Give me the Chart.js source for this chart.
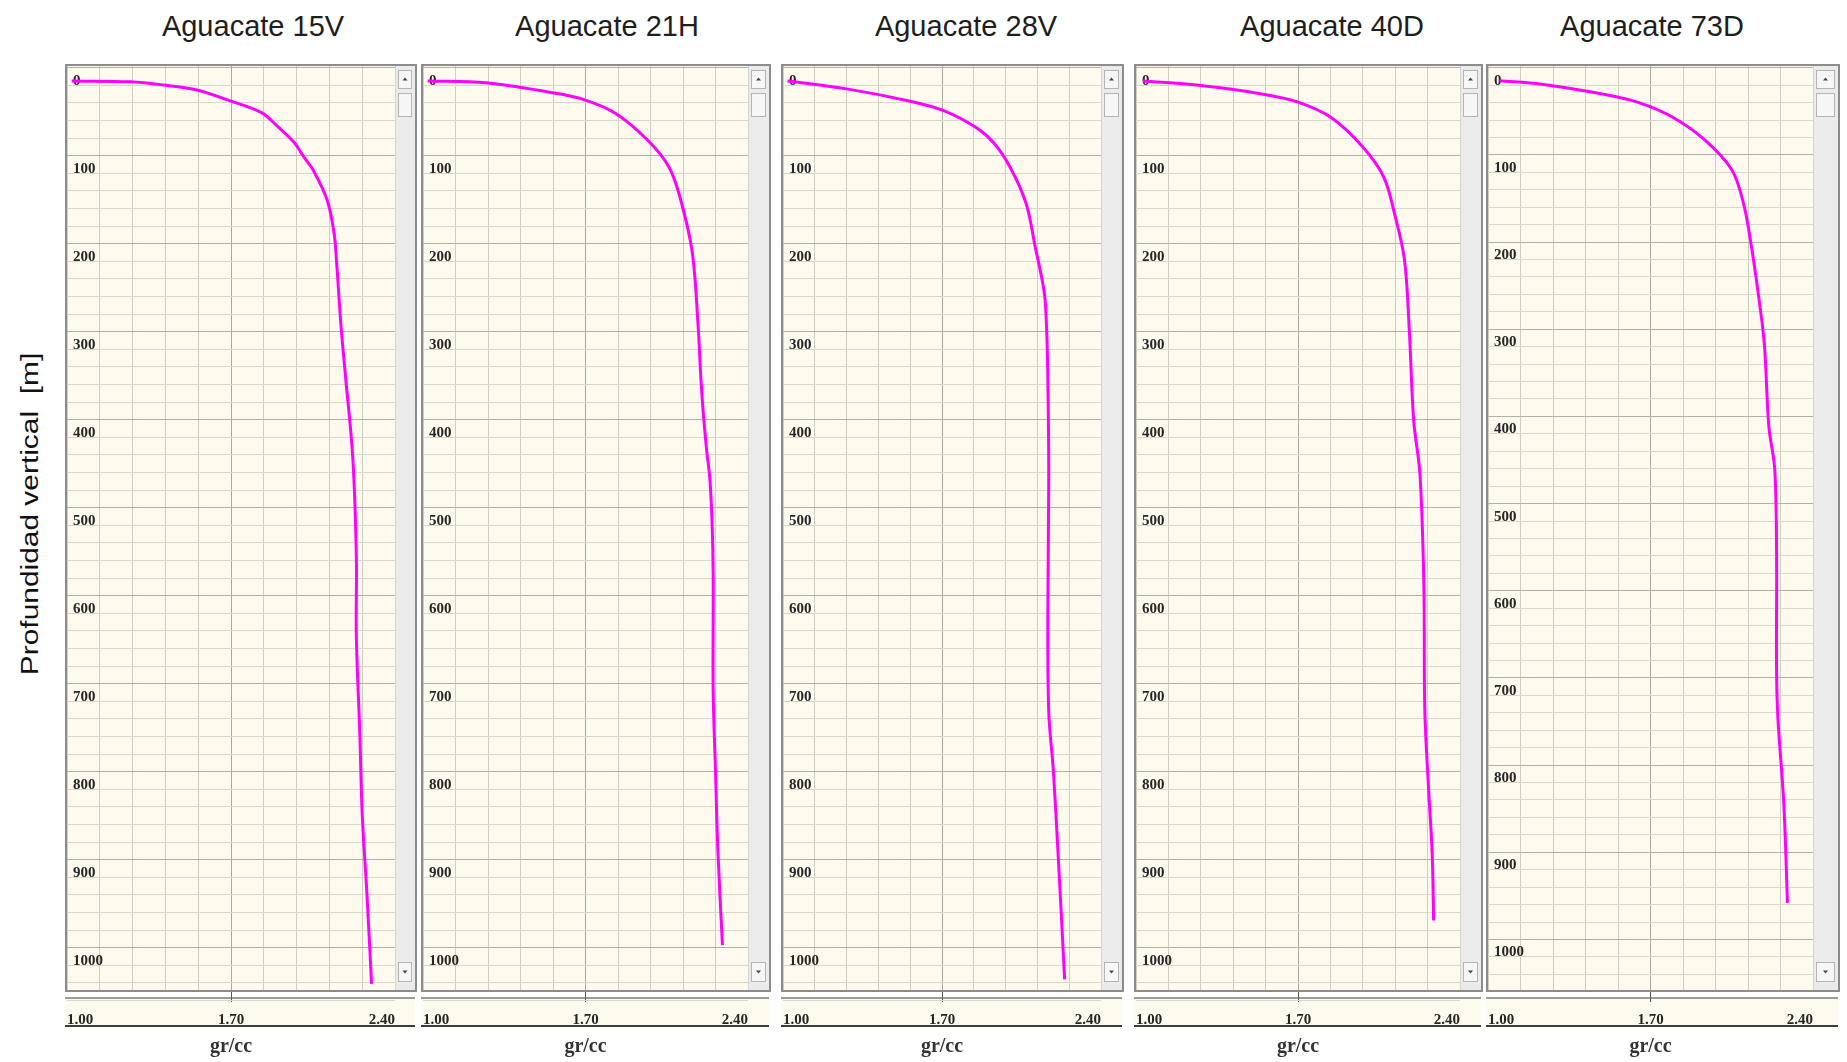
<!DOCTYPE html>
<html>
<head>
<meta charset="utf-8">
<title>Aguacate - densidad vs profundidad</title>
<script src="https://cdn.jsdelivr.net/npm/chart.js@4.4.1/dist/chart.umd.min.js"></script>
<style>
  html, body { margin: 0; padding: 0; background: #fff; }
  body { width: 1847px; height: 1062px; position: relative; overflow: hidden; font-family: "Liberation Sans", Arial, sans-serif; }
  .panel { position: absolute; top: 0; }
  .well-title { position: absolute; top: 12px; font-size: 29px; line-height: 29px; color: #1e1e1e; white-space: nowrap; transform: translateX(-50%); }
  #ytitle { position: absolute; left: 30px; top: 514px; font-size: 23px; color: #111; white-space: pre; transform: translate(-50%, -50%) rotate(-90deg) scaleX(1.3); }
</style>
</head>
<body>
<div id="ytitle">Profundidad vertical  [m]</div>
<script>
// Wells
const wellNames = ['Aguacate 15V', 'Aguacate 21H', 'Aguacate 28V', 'Aguacate 40D', 'Aguacate 73D']

const depth15V = [0, 1, 4.5, 10, 22, 36, 52, 70, 86, 101, 135, 173, 203, 280, 339, 429, 541, 631, 743, 833, 923, 1026]
const dens15V = [1.02, 1.27, 1.41, 1.55, 1.69, 1.83, 1.90, 1.97, 2.01, 2.05, 2.11, 2.14, 2.15, 2.17, 2.19, 2.22, 2.235, 2.235, 2.25, 2.26, 2.28, 2.30]

const depth21H = [0, 2, 13, 21, 37, 68, 98, 135, 195, 278, 338, 376, 420, 450, 500, 561, 694, 783, 873, 982]
const dens21H = [1.02, 1.27, 1.55, 1.69, 1.83, 1.97, 2.06, 2.11, 2.16, 2.185, 2.197, 2.207, 2.222, 2.235, 2.245, 2.25, 2.25, 2.26, 2.27, 2.29]

const depth28V = [0, 9, 23, 34, 53, 71, 98, 139, 188, 240, 278, 338, 450, 605, 717, 783, 873, 1021]
const dens28V = [1.02, 1.28, 1.56, 1.71, 1.85, 1.93, 2.00, 2.07, 2.11, 2.15, 2.16, 2.166, 2.17, 2.166, 2.17, 2.19, 2.21, 2.24]

const depth40D = [0, 5, 15, 24, 41, 75, 109, 154, 203, 278, 386, 447, 574, 715, 808, 879, 954]
const dens40D = [1.03, 1.27, 1.55, 1.70, 1.84, 1.98, 2.07, 2.12, 2.16, 2.18, 2.20, 2.227, 2.244, 2.248, 2.265, 2.28, 2.286]

const depth73D = [0, 4, 16, 25, 41, 67, 102, 140, 182, 236, 301, 397, 445, 540, 675, 732, 828, 943]
const dens73D = [1.05, 1.23, 1.51, 1.65, 1.79, 1.93, 2.05, 2.10, 2.13, 2.16, 2.19, 2.21, 2.235, 2.243, 2.243, 2.249, 2.274, 2.29]

const wellDepths = [depth15V, depth21H, depth28V, depth40D, depth73D]
const wellDens = [dens15V, dens21H, dens28V, dens40D, dens73D]

// Axes
const densMin = 1.00
const densMax = 2.40
const densStep = 0.14
const depthLabels = [0, 100, 200, 300, 400, 500, 600, 700, 800, 900, 1000]
const depthMin = -17
const depthMaxes = [1033, 1033, 1033, 1033, 1043]
const gridFirst = -15   // the grid of the logging tool is shifted from the labels
const gridStep = 20

// Layout of each track (px): grid area left/right, scrollbar right edge, title centre
const tracks = [
  { left: 62, right: 395, scroll: 415, titleX: 253 },
  { left: 418, right: 748, scroll: 769, titleX: 607 },
  { left: 778, right: 1101, scroll: 1122, titleX: 966 },
  { left: 1131, right: 1460, scroll: 1481, titleX: 1332 },
  { left: 1483, right: 1813, scroll: 1838, titleX: 1652 }
]
const areaTop = 66
const pageH = 1062

const labelFont = { family: '"Liberation Serif", "Times New Roman", serif', size: 15, weight: 'bold' }

// Background, tick strip, scrollbar and frame of each track
const trackDecor = {
  id: 'trackDecor',
  beforeDraw(chart, args, opts) {
    const { ctx, chartArea: a } = chart
    const right = a.right + opts.scrollWidth
    ctx.save()
    ctx.fillStyle = '#fefbee'
    ctx.fillRect(a.left, a.top, a.right - a.left, a.bottom - a.top)
    const sTop = a.bottom + 7
    const sBot = a.bottom + 36
    ctx.fillStyle = '#fdfaee'
    ctx.fillRect(a.left - 2, sTop, right - a.left + 2, sBot - sTop)
    ctx.fillStyle = '#9c9c9c'
    ctx.fillRect(a.left - 2, sTop, right - a.left + 2, 2)
    ctx.fillStyle = '#3a3a3a'
    ctx.fillRect(a.left - 2, sBot - 1, right - a.left + 2, 2)
    ctx.restore()
  },
  afterDraw(chart, args, opts) {
    const { ctx, chartArea: a } = chart
    const x0 = a.right
    const w = opts.scrollWidth
    ctx.save()
    // scrollbar
    ctx.fillStyle = '#ebebeb'
    ctx.fillRect(x0, a.top, w, a.bottom - a.top)
    ctx.fillStyle = '#d4d4d4'
    ctx.fillRect(x0, a.top, 1, a.bottom - a.top)
    const btn = (y, h) => {
      ctx.fillStyle = '#f6f6f6'
      ctx.fillRect(x0 + 3, y, w - 6, h)
      ctx.strokeStyle = '#b4b4b4'
      ctx.lineWidth = 1
      ctx.strokeRect(x0 + 3.5, y + 0.5, w - 7, h - 1)
    }
    const arrow = (cy, up) => {
      const cx = x0 + w / 2
      ctx.fillStyle = '#444'
      ctx.beginPath()
      ctx.moveTo(cx - 2.5, cy + (up ? 1.5 : -1.5))
      ctx.lineTo(cx + 2.5, cy + (up ? 1.5 : -1.5))
      ctx.lineTo(cx, cy + (up ? -1.5 : 1.5))
      ctx.closePath()
      ctx.fill()
    }
    btn(a.top + 4, 19)
    arrow(a.top + 13, true)
    btn(a.top + 27, 24)
    btn(a.bottom - 28, 20)
    arrow(a.bottom - 18, false)
    // frame
    ctx.strokeStyle = '#8c8c8c'
    ctx.lineWidth = 2
    ctx.strokeRect(a.left - 1, a.top - 1, x0 + w - a.left + 2, a.bottom - a.top + 2)
    ctx.restore()
  }
}

const gridDepths = []
for (let v = gridFirst; v <= 1045; v += gridStep) gridDepths.push(v)

function buildTrack(i) {
  const t = tracks[i]
  const scrollWidth = t.scroll - t.right

  const title = document.createElement('div')
  title.className = 'well-title'
  title.style.left = t.titleX + 'px'
  title.textContent = wellNames[i]
  document.body.appendChild(title)

  const box = document.createElement('div')
  box.className = 'panel'
  box.style.left = (t.left - 4) + 'px'
  const cv = document.createElement('canvas')
  cv.width = t.scroll - t.left + 8
  cv.height = pageH
  box.appendChild(cv)
  document.body.appendChild(box)

  const points = wellDens[i].map((d, k) => ({ x: d, y: wellDepths[i][k] }))
  const yMax = depthMaxes[i]

  new Chart(cv, {
    type: 'line',
    data: {
      datasets: [{
        data: points,
        xAxisID: 'x',
        yAxisID: 'y',
        borderColor: '#ff00ff',
        borderWidth: 3,
        pointRadius: 0,
        tension: 0.35,
        fill: false
      }]
    },
    options: {
      responsive: false,
      animation: false,
      layout: { padding: { left: 4, right: 4 + scrollWidth, top: areaTop, bottom: 5 } },
      plugins: {
        legend: { display: false },
        tooltip: { enabled: false },
        trackDecor: { scrollWidth }
      },
      scales: {
        x: {
          type: 'linear',
          position: 'bottom',
          min: densMin,
          max: densMax,
          ticks: {
            stepSize: densStep,
            autoSkip: false,
            maxRotation: 0,
            align: 'inner',
            padding: 9,
            color: '#262626',
            font: labelFont,
            callback: (v, idx) => idx % 5 === 0 ? Number(v).toFixed(2) : ''
          },
          grid: {
            color: ctx => ctx.index === 5 ? '#aba89e' : '#d0cdc1',
            lineWidth: 1,
            drawTicks: true,
            tickLength: 12,
            tickColor: ctx => ctx.index === 5 ? '#555' : 'rgba(0,0,0,0)'
          },
          border: { display: false },
          title: {
            display: true,
            text: 'gr/cc',
            color: '#333',
            padding: 0,
            font: { family: '"Liberation Serif", "Times New Roman", serif', size: 20, weight: 'bold', lineHeight: 1 }
          },
          afterFit: s => { s.height = 67 }
        },
        yg: {
          type: 'linear',
          position: 'left',
          reverse: true,
          min: depthMin,
          max: yMax,
          afterBuildTicks: s => { s.ticks = gridDepths.map(v => ({ value: v })) },
          ticks: { display: false },
          grid: {
            color: ctx => Math.round(ctx.tick.value - gridFirst) % 100 === 0 ? '#b3b0a5' : '#dbd7c9',
            lineWidth: 1,
            drawTicks: false
          },
          border: { display: false },
          afterFit: s => { s.width = 0 }
        },
        y: {
          type: 'linear',
          position: 'left',
          reverse: true,
          min: depthMin,
          max: yMax,
          afterBuildTicks: s => { s.ticks = depthLabels.map(v => ({ value: v })) },
          ticks: {
            mirror: true,
            padding: 6,
            autoSkip: false,
            color: '#262626',
            font: labelFont,
            callback: v => String(v)
          },
          grid: { display: false, drawTicks: false },
          border: { display: false },
          afterFit: s => { s.width = 0 }
        }
      }
    },
    plugins: [trackDecor]
  })
}

wellNames.forEach((n, i) => buildTrack(i))
</script>
</body>
</html>
